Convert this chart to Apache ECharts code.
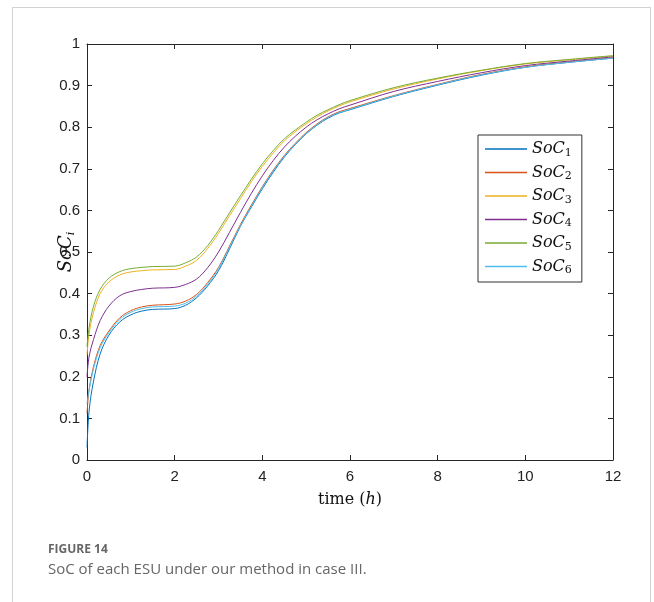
<!DOCTYPE html>
<html>
<head>
<meta charset="utf-8">
<script src="https://cdn.jsdelivr.net/npm/echarts@6/dist/echarts.min.js"></script>
<style>
  body { margin: 0; background: #fff; }
  #frame { position: absolute; left: 12px; top: 7px; width: 637px; height: 640px; border: 1px solid #d2d2d2; }
  #chart { position: absolute; left: 0; top: 0; width: 654px; height: 602px; }
</style>
</head>
<body>
<div id="frame"></div>
<div id="chart"></div>
<script>
// time in hours
var time = [0, 0.05, 0.15, 0.3, 0.5, 0.75, 1, 1.25, 1.5, 2, 2.25, 2.5, 2.75, 3, 3.25, 3.5, 3.75, 4, 4.25, 4.5, 4.75, 5, 5.25, 5.5, 5.75, 6, 7, 8, 9, 10, 11, 12];

var soc1 = [0.03, 0.12, 0.19, 0.255, 0.30, 0.332, 0.349, 0.358, 0.362, 0.364, 0.372, 0.39, 0.418, 0.455, 0.507, 0.562, 0.608, 0.652, 0.692, 0.728, 0.758, 0.784, 0.805, 0.822, 0.834, 0.842, 0.874, 0.901, 0.925, 0.944, 0.956, 0.966];
var soc2 = [0.112, 0.17, 0.225, 0.275, 0.31, 0.342, 0.359, 0.368, 0.372, 0.375, 0.382, 0.398, 0.426, 0.463, 0.514, 0.566, 0.613, 0.657, 0.697, 0.732, 0.761, 0.787, 0.808, 0.825, 0.837, 0.845, 0.876, 0.903, 0.927, 0.945, 0.957, 0.967];
var soc3 = [0.252, 0.305, 0.355, 0.40, 0.428, 0.445, 0.452, 0.455, 0.457, 0.458, 0.466, 0.48, 0.508, 0.545, 0.587, 0.628, 0.669, 0.706, 0.738, 0.767, 0.789, 0.808, 0.825, 0.839, 0.851, 0.861, 0.892, 0.916, 0.936, 0.952, 0.962, 0.971];
var soc4 = [0.20, 0.25, 0.29, 0.335, 0.37, 0.395, 0.405, 0.41, 0.413, 0.415, 0.422, 0.435, 0.462, 0.50, 0.547, 0.595, 0.641, 0.683, 0.72, 0.752, 0.778, 0.80, 0.818, 0.832, 0.844, 0.853, 0.886, 0.91, 0.931, 0.948, 0.959, 0.969];
var soc5 = [0.272, 0.32, 0.37, 0.41, 0.437, 0.453, 0.46, 0.463, 0.465, 0.466, 0.474, 0.488, 0.515, 0.552, 0.594, 0.635, 0.675, 0.712, 0.744, 0.772, 0.793, 0.812, 0.829, 0.842, 0.854, 0.864, 0.895, 0.918, 0.937, 0.953, 0.963, 0.972];
var soc6 = [0.135, 0.17, 0.22, 0.27, 0.306, 0.338, 0.355, 0.364, 0.368, 0.37, 0.377, 0.394, 0.422, 0.46, 0.511, 0.563, 0.61, 0.655, 0.695, 0.73, 0.759, 0.785, 0.806, 0.824, 0.835, 0.843, 0.875, 0.902, 0.926, 0.944, 0.956, 0.966];

var names = ['SoC1', 'SoC2', 'SoC3', 'SoC4', 'SoC5', 'SoC6'];
var colors = ['#0072BD', '#D95319', '#EDB120', '#7E2F8E', '#77AC30', '#4DBEEE'];
var allData = [soc1, soc2, soc3, soc4, soc5, soc6];

function pairs(ys) {
    var out = [];
    for (let i = 0; i < time.length; i++) out.push([time[i], ys[i]]);
    return out;
}

var series = [];
for (let k = 0; k < names.length; k++) {
    series.push({
        name: names[k],
        type: 'line',
        data: pairs(allData[k]),
        smooth: 0.35,
        symbol: 'none',
        lineStyle: { color: colors[k], width: 1 },
        itemStyle: { color: colors[k] }
    });
}

var axisCol = '#262626';
var tickFont = { fontFamily: 'Liberation Sans', fontSize: 15, color: '#222' };

// box axes: the mirrored top/right axes must not snap to zero
function boxAxis(pos, min, max, step) {
    return {
        type: 'value', min: min, max: max, interval: step, position: pos,
        axisLine: { onZero: false, lineStyle: { color: axisCol, width: 1 } },
        axisTick: { show: true, inside: true, length: 5, lineStyle: { color: axisCol } },
        axisLabel: { show: false },
        splitLine: { show: false }
    };
}

var chart = echarts.init(document.getElementById('chart'));
var option = {
    animation: false,
    title: [
        { text: 'FIGURE 14', left: 43, top: 539, textStyle: { fontFamily: 'Open Sans', fontSize: 12, fontWeight: 'bold', color: '#666' } },
        { text: 'SoC of each ESU under our method in case III.', left: 43, top: 557, textStyle: { fontFamily: 'Open Sans', fontSize: 15, fontWeight: 'normal', color: '#666' } }
    ],
    grid: { left: 87, right: 41, top: 44, bottom: 142 },
    legend: {
        orient: 'vertical',
        left: 478,
        top: 135,
        padding: [6, 10, 6, 7],
        itemGap: 6,
        itemWidth: 42,
        itemHeight: 1.5,
        icon: 'rect',
        borderColor: '#333',
        borderWidth: 1,
        backgroundColor: '#fff',
        data: names,
        formatter: function (n) { return '{a|SoC}{b|' + n.slice(3) + '}'; },
        textStyle: {
            rich: {
                a: { fontFamily: 'DejaVu Serif', fontStyle: 'italic', fontSize: 16, lineHeight: 18, color: '#111' },
                b: { fontFamily: 'DejaVu Serif', fontSize: 11, color: '#111', padding: [8, 0, 0, 0] }
            }
        }
    },
    xAxis: [{
        type: 'value', min: 0, max: 12, interval: 2,
        name: '{n|time (}{i|h}{n|)}',
        nameLocation: 'middle', nameGap: 32, nameMoveOverlap: false,
        nameTextStyle: { rich: {
            n: { fontFamily: 'DejaVu Serif', fontSize: 16, color: '#111' },
            i: { fontFamily: 'DejaVu Serif', fontStyle: 'italic', fontSize: 16, color: '#111' }
        } },
        axisLine: { onZero: false, lineStyle: { color: axisCol, width: 1 } },
        axisTick: { show: true, inside: true, length: 5, lineStyle: { color: axisCol } },
        axisLabel: Object.assign({ margin: 9 }, tickFont),
        splitLine: { show: false }
    }, boxAxis('top', 0, 12, 2)],
    yAxis: [{
        type: 'value', min: 0, max: 1, interval: 0.1,
        name: '{a|SoC}{b|i}',
        nameLocation: 'middle', nameGap: 10, nameRotate: 90, nameMoveOverlap: false,
        nameTextStyle: { rich: {
            a: { fontFamily: 'DejaVu Serif', fontStyle: 'italic', fontSize: 18, color: '#111' },
            b: { fontFamily: 'DejaVu Serif', fontStyle: 'italic', fontSize: 11, color: '#111', padding: [10, 0, 0, 0] }
        } },
        axisLine: { onZero: false, lineStyle: { color: axisCol, width: 1 } },
        axisTick: { show: true, inside: true, length: 5, lineStyle: { color: axisCol } },
        axisLabel: Object.assign({ margin: 7 }, tickFont),
        splitLine: { show: false }
    }, boxAxis('right', 0, 1, 0.1)],
    series: series
};
chart.setOption(option);
</script>
</body>
</html>
